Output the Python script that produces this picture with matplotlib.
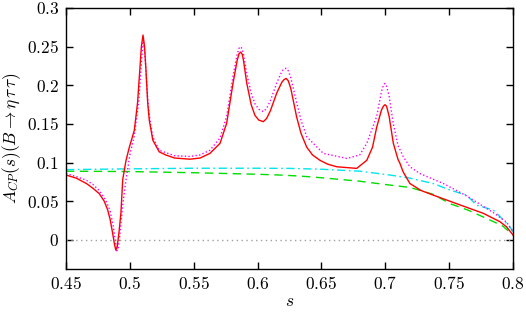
import numpy as np
import matplotlib
matplotlib.use("Agg")
import matplotlib.pyplot as plt

plt.rcParams['mathtext.fontset'] = 'cm'
plt.rcParams['font.family'] = 'serif'
plt.rcParams['font.serif'] = ['DejaVu Serif']

# full result (red, solid)
s_red = [0.450, 0.458, 0.466, 0.471, 0.476, 0.480, 0.4826, 0.4845, 0.4865, 0.488,
         0.489, 0.490, 0.4915, 0.493, 0.4944, 0.497, 0.4996, 0.5035, 0.506, 0.508,
         0.509, 0.5103, 0.5115, 0.5126, 0.514, 0.5152, 0.518, 0.523, 0.528, 0.535,
         0.547, 0.555, 0.5627, 0.5706, 0.5758, 0.5808, 0.584, 0.5855, 0.5868, 0.588,
         0.589, 0.5915, 0.595, 0.598, 0.601, 0.6045, 0.607, 0.610, 0.615, 0.619,
         0.6205, 0.6223, 0.624, 0.626, 0.628, 0.6306, 0.634, 0.6385, 0.643, 0.6489,
         0.655, 0.662, 0.6776, 0.6855, 0.690, 0.6933, 0.697, 0.6985, 0.6998, 0.701,
         0.703, 0.7063, 0.710, 0.7115, 0.714, 0.7193, 0.728, 0.7376, 0.7558, 0.7767,
         0.7897, 0.795, 0.800]
a_red = [0.084, 0.080, 0.073, 0.067, 0.060, 0.050, 0.039, 0.027, 0.009, -0.006,
         -0.013, -0.010, 0.010, 0.035, 0.078, 0.103, 0.120, 0.142, 0.177, 0.225,
         0.250, 0.265, 0.250, 0.220, 0.177, 0.155, 0.129, 0.114, 0.110, 0.106,
         0.1045, 0.106, 0.112, 0.125, 0.151, 0.203, 0.232, 0.241, 0.243, 0.240,
         0.232, 0.203, 0.175, 0.161, 0.155, 0.153, 0.157, 0.167, 0.190, 0.204,
         0.207, 0.209, 0.206, 0.196, 0.180, 0.159, 0.138, 0.120, 0.110, 0.103,
         0.098, 0.0947, 0.0926, 0.103, 0.120, 0.146, 0.168, 0.173, 0.175, 0.173,
         0.160, 0.125, 0.104, 0.099, 0.088, 0.073, 0.064, 0.058, 0.047, 0.0345,
         0.0237, 0.017, 0.0065]

# magenta, dotted
s_mag = [0.450, 0.458, 0.4657, 0.471, 0.476, 0.481, 0.4845, 0.487, 0.4885, 0.4898,
         0.491, 0.4925, 0.4944, 0.497, 0.500, 0.5035, 0.507, 0.509, 0.5105, 0.512,
         0.514, 0.516, 0.518, 0.523, 0.535, 0.547, 0.555, 0.5627, 0.5706, 0.5758,
         0.5808, 0.584, 0.5855, 0.5868, 0.588, 0.589, 0.5915, 0.595, 0.598, 0.601,
         0.6045, 0.607, 0.610, 0.615, 0.619, 0.6205, 0.6223, 0.624, 0.626, 0.628,
         0.6306, 0.634, 0.6385, 0.6515, 0.6698, 0.680, 0.6855, 0.6933, 0.697, 0.6985,
         0.6998, 0.701, 0.703, 0.7063, 0.710, 0.714, 0.7193, 0.727, 0.7455, 0.7637,
         0.7845, 0.795, 0.800]
a_mag = [0.086, 0.082, 0.0775, 0.072, 0.064, 0.052, 0.038, 0.018, 0.000, -0.014,
         -0.010, 0.012, 0.045, 0.078, 0.110, 0.135, 0.180, 0.228, 0.262, 0.235,
         0.180, 0.152, 0.133, 0.116, 0.109, 0.108, 0.110, 0.116, 0.132, 0.160,
         0.212, 0.240, 0.248, 0.250, 0.247, 0.240, 0.215, 0.190, 0.176, 0.169,
         0.166, 0.170, 0.180, 0.203, 0.218, 0.221, 0.222, 0.219, 0.210, 0.196,
         0.178, 0.155, 0.1335, 0.112, 0.1055, 0.110, 0.125, 0.160, 0.192, 0.200,
         0.2025, 0.199, 0.186, 0.150, 0.122, 0.108, 0.0947, 0.086, 0.073, 0.057,
         0.0355, 0.023, 0.0107]

# cyan, dash-dot
s_cyan = [0.450, 0.500, 0.550, 0.600, 0.6254, 0.650, 0.680, 0.7037, 0.7193, 0.7376,
          0.7507, 0.7637, 0.7715, 0.7845, 0.790, 0.7976, 0.800]
a_cyan = [0.0910, 0.0920, 0.0928, 0.0928, 0.0926, 0.0915, 0.0890, 0.0840, 0.0800, 0.0730,
          0.0646, 0.0580, 0.0450, 0.0388, 0.0300, 0.0170, 0.0107]

# green, dashed
s_green = [0.450, 0.500, 0.550, 0.600, 0.6176, 0.633, 0.650, 0.680, 0.7037, 0.7193,
           0.7376, 0.7507, 0.7650, 0.782, 0.792, 0.800]
a_green = [0.0890, 0.0885, 0.0870, 0.0850, 0.0840, 0.0827, 0.0805, 0.0760, 0.0710, 0.0680,
           0.0590, 0.0470, 0.0385, 0.0258, 0.0180, 0.0065]

xticks = [0.45, 0.5, 0.55, 0.6, 0.65, 0.7, 0.75, 0.8]
xticklabels = ['0.45', '0.5', '0.55', '0.6', '0.65', '0.7', '0.75', '0.8']
yticks = [0, 0.05, 0.1, 0.15, 0.2, 0.25, 0.3]
yticklabels = ['0', '0.05', '0.1', '0.15', '0.2', '0.25', '0.3']

fig = plt.figure(figsize=(5.26, 3.13), dpi=100)
ax = fig.add_axes([66 / 526, 44 / 313, 447 / 526, 261 / 313])

ax.axhline(0, color='#a0a0a0', lw=1.0, ls=(0, (1, 2.5)))
ax.plot(s_green, a_green, color='#00dd00', lw=1.0, ls=(0, (6, 4)))
ax.plot(s_cyan, a_cyan, color='#00e5ee', lw=1.0, ls=(0, (6, 2.5, 1.2, 2.5)))
ax.plot(s_mag, a_mag, color='#ff00ff', lw=1.0, ls=(0, (1, 1.6)))
ax.plot(s_red, a_red, color='#ff0000', lw=1.0)

ax.set_xlim(0.45, 0.8)
ax.set_ylim(-0.0375, 0.3)
ax.set_xticks(xticks)
ax.set_xticklabels(['$' + t + '$' for t in xticklabels], fontsize=12.5)
ax.set_yticks(yticks)
ax.set_yticklabels(['$' + t + '$' for t in yticklabels], fontsize=12.5)
ax.tick_params(direction='in', length=5, width=1, top=True, right=True, pad=5)
for sp in ax.spines.values():
    sp.set_linewidth(1)

ax.set_xlabel('$s$', fontsize=12.5, labelpad=0)
ax.set_ylabel(r'$A_{CP}(s)(B\rightarrow\eta\,\tau\,\tau)$', fontsize=12.5, labelpad=3)

fig.savefig('out.png', dpi=100)
